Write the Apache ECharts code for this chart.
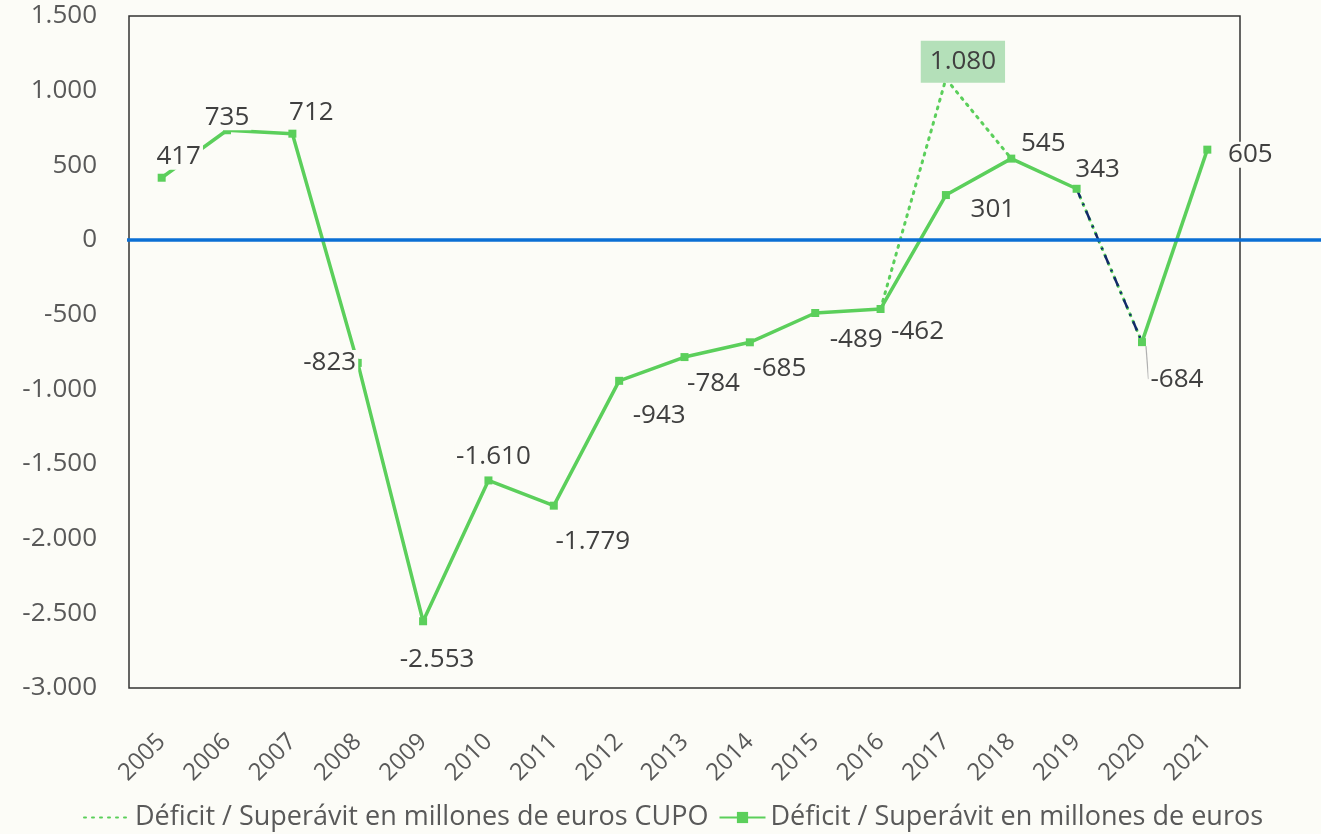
<!DOCTYPE html>
<html>
<head>
<meta charset="utf-8">
<script src="https://cdn.jsdelivr.net/npm/echarts@6/dist/echarts.min.js"></script>
<style>
  html, body { margin: 0; padding: 0; background: #fcfcf7; }
  #chart { width: 1321px; height: 834px; }
</style>
</head>
<body>
<div id="chart"></div>
<script>
/* Déficit / Superávit, millones de euros */
const years = ['2005', '2006', '2007', '2008', '2009', '2010', '2011', '2012', '2013', '2014', '2015', '2016', '2017', '2018', '2019', '2020', '2021'];
const saldo = [417, 735, 712, -823, -2553, -1610, -1779, -943, -784, -685, -489, -462, 301, 545, 343, -684, 605];
const cupo = [null, null, null, null, null, null, null, null, null, null, null, -462, 1080, 545, null, null, null];
const yTicks = { min: -3000, max: 1500, step: 500 };
const NAME_CUPO = 'Déficit / Superávit en millones de euros CUPO';
const NAME_MAIN = 'Déficit / Superávit en millones de euros';

const BG = '#fcfcf7', GREEN = '#5bcf5b', NAVY = '#14296b', BLUE = '#0b6fd4';
const FONT = '"Open Sans", sans-serif';

// label offsets (dx, dy) from each point, layout only
const labelOff = [[17, -21], [0, -13], [19, -21], [-28, 0], [14, 38], [5, -24], [39, 36], [40, 35], [29, 27],
  [30, 26], [41, 27], [37, 23], [47, 15], [32, -15], [21, -19], [35, 37], [43, 5]];

const fmt = v => (v < 0 ? '-' : '') + String(Math.abs(v)).replace(/\B(?=(\d{3})+(?!\d))/g, '.');

const ptLabel = { show: true, position: 'inside', formatter: p => fmt(p.value), fontFamily: FONT, fontSize: 26,
  color: '#404040', backgroundColor: BG, padding: [0, 2] };

function mainData(from, to) {
  return saldo.map((v, i) => {
    if (i < from || i > to) return null;
    const it = { value: v };
    if (i === 15) {
      it.label = { padding: [14, 2, 0, 2] };
      it.labelLine = { show: true, lineStyle: { color: '#b0b0b0', width: 1.2 } };
    }
    return it;
  });
}

const cupoPeak = cupo.indexOf(Math.max(...cupo.filter(v => v != null)));

const chart = echarts.init(document.getElementById('chart'), null, { renderer: 'canvas' });
chart.setOption({
  backgroundColor: BG,
  animation: false,
  grid: [
    { left: 129, right: 81, top: 16, bottom: 146, show: true, borderColor: '#333', borderWidth: 1.5, backgroundColor: 'transparent' },
    { left: 127, right: 0, top: 16, bottom: 146, show: false },
  ],
  legend: {
    data: [NAME_CUPO, NAME_MAIN], bottom: -2, left: 78, itemWidth: 46, itemHeight: 14, itemGap: 10,
    textStyle: { fontFamily: FONT, fontSize: 27, color: '#595959' },
  },
  xAxis: [
    { type: 'category', data: years, boundaryGap: true, axisLine: { show: false }, axisTick: { show: false },
      axisLabel: { rotate: 45, margin: 50, fontFamily: FONT, fontSize: 24, color: '#595959', interval: 0 } },
    { type: 'value', gridIndex: 1, min: 0, max: 1, show: false },
  ],
  yAxis: [
    { type: 'value', min: yTicks.min, max: yTicks.max, interval: yTicks.step, splitLine: { show: false },
      axisLine: { show: false }, axisTick: { show: false },
      axisLabel: { margin: 32, formatter: fmt, fontFamily: FONT, fontSize: 26, color: '#595959' } },
    { type: 'value', gridIndex: 1, min: yTicks.min, max: yTicks.max, show: false },
  ],
  series: [
    { name: NAME_CUPO, type: 'line', symbol: 'none', z: 2,
      lineStyle: { color: GREEN, width: 3, type: [2, 6], cap: 'round' }, itemStyle: { color: 'transparent' },
      data: cupo,
      markPoint: { symbol: 'rect', symbolSize: 1, itemStyle: { color: 'transparent' }, z: 8,
        label: { show: true, position: 'inside', offset: [17, -17], formatter: p => fmt(p.value), fontFamily: FONT,
          fontSize: 26, color: '#404040', backgroundColor: '#b4e0b9', padding: [9, 9, 7, 9] },
        data: [{ coord: [cupoPeak, cupo[cupoPeak]], value: cupo[cupoPeak] }] } },
    { name: '_enlace', type: 'line', symbol: 'none', z: 2, lineStyle: { color: GREEN, width: 3, type: [2, 6], cap: 'round' },
      data: saldo.map((v, i) => (i === 14 || i === 15) ? v : null) },
    { name: '_enlace2', type: 'line', symbol: 'none', z: 3, lineStyle: { color: NAVY, width: 2.5, type: [10, 6, 2, 6] },
      data: saldo.map((v, i) => (i === 14 || i === 15) ? v : null) },
    { name: NAME_MAIN, type: 'line', symbol: 'rect', symbolSize: 8, z: 4,
      lineStyle: { color: GREEN, width: 3.5 }, itemStyle: { color: GREEN },
      label: ptLabel, labelLayout: p => ({ dx: labelOff[p.dataIndex][0], dy: labelOff[p.dataIndex][1] }),
      data: mainData(0, 14) },
    { name: NAME_MAIN, type: 'line', symbol: 'rect', symbolSize: 8, z: 4,
      lineStyle: { color: GREEN, width: 3.5 }, itemStyle: { color: GREEN },
      label: ptLabel, labelLayout: p => ({ dx: labelOff[p.dataIndex][0], dy: labelOff[p.dataIndex][1] }),
      data: mainData(15, 16) },
    { name: '_cero', type: 'line', xAxisIndex: 1, yAxisIndex: 1, data: [], z: 6,
      markLine: { silent: true, symbol: 'none', label: { show: false },
        lineStyle: { color: BLUE, width: 3.5, type: 'solid' }, data: [{ yAxis: 0 }] } },
  ],
});
</script>
</body>
</html>
